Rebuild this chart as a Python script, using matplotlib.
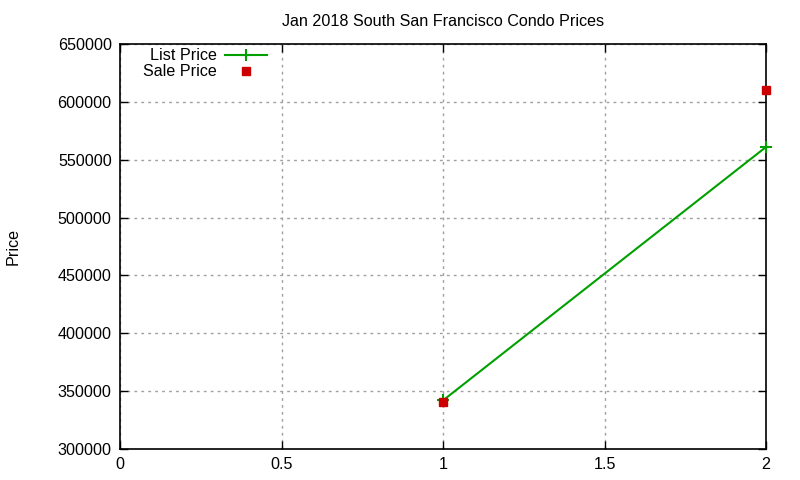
import matplotlib
matplotlib.use("Agg")
import matplotlib.pyplot as plt

plt.rcParams['font.family'] = ['Liberation Sans', 'DejaVu Sans']

x_vals = [1, 2]
list_price = [342000, 561000]
sale_price = [341000, 610000]
x_ticks = [0, 0.5, 1, 1.5, 2]
y_ticks = [300000, 350000, 400000, 450000, 500000, 550000, 600000, 650000]

FS = 11.6
fig = plt.figure(figsize=(8, 4.8), dpi=100)
ax = fig.add_axes([0.15, 0.0646, 0.8075, 0.8437])

green = '#00a000'
red = '#cc0000'
ax.plot(x_vals, list_price, color=green, lw=1.5, marker='+', ms=8, mew=1.5,
        label='List Price', zorder=6, clip_on=False)
ax.plot(x_vals, sale_price, ls='none', color=red, marker='s', ms=6,
        label='Sale Price', zorder=7, clip_on=False)

ax.set_xlim(0, 2)
ax.set_ylim(300000, 650000)
ax.set_xticks(x_ticks)
ax.set_xticklabels(['0', '0.5', '1', '1.5', '2'])
ax.set_yticks(y_ticks)
ax.set_yticklabels([str(v) for v in y_ticks])
ax.tick_params(direction='in', top=True, right=True, length=6, width=1,
               labelsize=FS, colors='black', pad=6)
ax.grid(True, color='#a0a0a0', ls=(0, (2, 3)), lw=1)
for s in ax.spines.values():
    s.set_linewidth(1.2)
    s.set_zorder(5)

ax.set_title('Jan 2018 South San Francisco Condo Prices', fontsize=FS, pad=13)
fig.text(0.016, 0.487, 'Price', rotation=90, ha='center', va='center', fontsize=FS)

leg = ax.legend(loc='upper left', bbox_to_anchor=(0.018, 1.017), frameon=False,
                markerfirst=False, fontsize=FS, handlelength=2.6,
                labelspacing=0.05, borderaxespad=0.3, numpoints=1, handletextpad=0.5)
for t in leg.get_texts():
    t.set_ha('right')
leg._legend_box.align = 'right'

fig.savefig('out.png', dpi=100)
